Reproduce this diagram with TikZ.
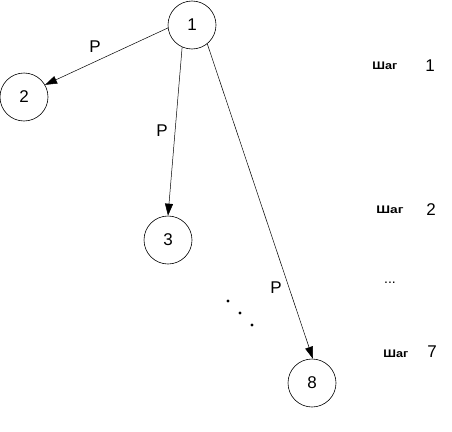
\documentclass[tikz,border=0pt]{standalone}
\usepackage{fontspec}
\setmainfont{Liberation Sans}
\usetikzlibrary{arrows.meta}
\begin{document}
\begin{tikzpicture}[x=1pt,y=-1pt,
  vertex/.style={circle,draw,line width=0.6pt,minimum size=48pt,inner sep=0pt,font=\fontsize{17}{19}\selectfont},
  edge/.style={draw,line width=0.5pt,-{Triangle[length=12pt,width=8pt]}},
  lbl/.style={font=\fontsize{17}{19}\selectfont,inner sep=0pt},
  steplbl/.style={font=\fontsize{11}{13}\selectfont\bfseries,inner sep=0pt},
  stepnum/.style={font=\fontsize{17}{19}\selectfont,inner sep=0pt}]
\useasboundingbox (0,0) rectangle (452,431);
\node[vertex] (n1) at (192,25) {1};
\node[vertex] (n2) at (24,97) {2};
\node[vertex] (n3) at (168,240) {3};
\node[vertex] (n8) at (312,383) {8};
\draw[edge] (n1.187) -- (n2.30);
\draw[edge] (n1.246) -- (n3.90);
\draw[edge] (n1.-51) -- (n8.88);
\node[lbl] (p1) at (95,47) {P};
\node[lbl] (p2) at (162,131) {P};
\node[lbl] (p3) at (276,288) {P};
\fill (228,301) circle (1.6pt) coordinate (d1);
\fill (240,313) circle (1.6pt) coordinate (d2);
\fill (252,325) circle (1.6pt) coordinate (d3);
\node[steplbl] (s1) at (385,66) {\scalebox{1.15}[1]{Шаг}};
\node[stepnum] (k1) at (430,66) {1};
\node[steplbl] (s2) at (390,210) {\scalebox{1.25}[1]{Шаг}};
\node[stepnum] (k2) at (431,210) {2};
\node[lbl,font=\fontsize{14}{16}\selectfont] (s3) at (390,283) {...};
\node[steplbl] (s4) at (396,354) {\scalebox{1.15}[1]{Шаг}};
\node[stepnum] (k4) at (432,352) {7};
\end{tikzpicture}
\end{document}
